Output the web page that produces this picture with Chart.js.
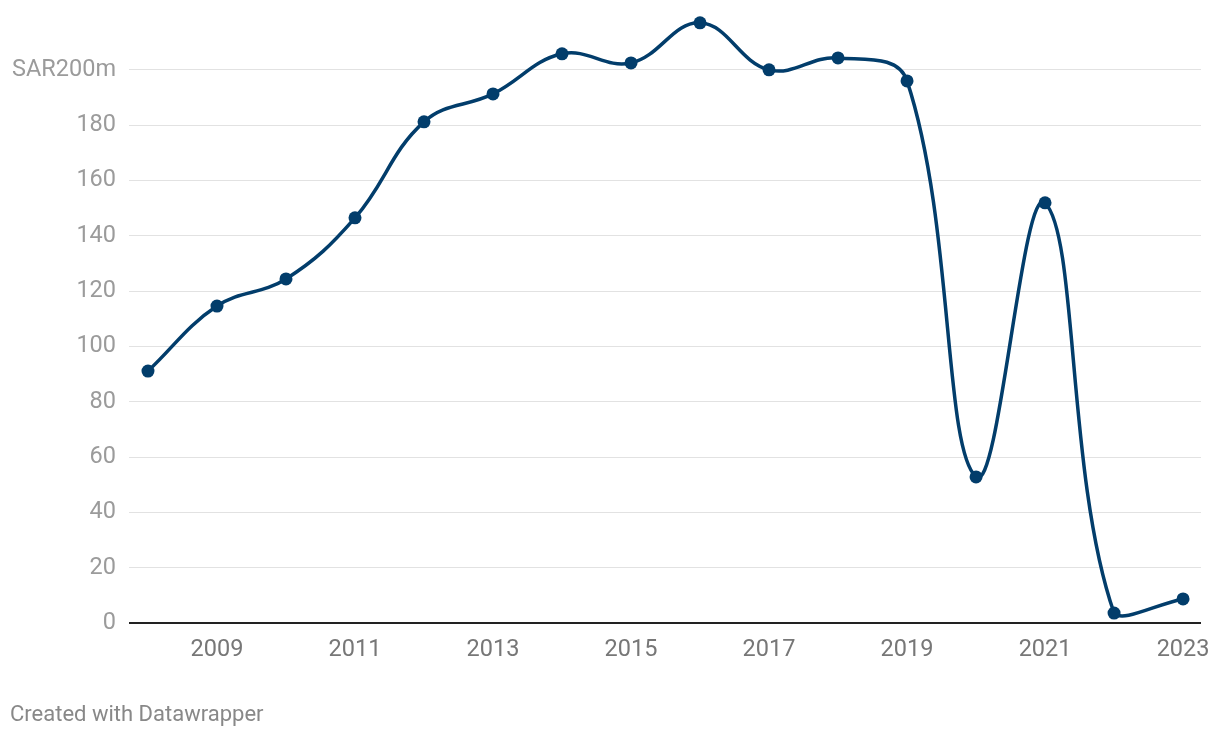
<!DOCTYPE html>
<html>
<head>
<meta charset="utf-8">
<script src="https://cdn.jsdelivr.net/npm/chart.js@4"></script>
<style>
  html, body { margin: 0; padding: 0; background: #fff; }
  #wrap { position: relative; width: 1220px; height: 738px; }
  #footer { position: absolute; left: 10px; top: 701px; font: 22px Roboto, sans-serif; color: #888; }
</style>
</head>
<body>
<div id="wrap">
  <canvas id="chart" width="1220" height="738"></canvas>
  <div id="footer">Created with Datawrapper</div>
</div>
<script>
const years = [2008, 2009, 2010, 2011, 2012, 2013, 2014, 2015, 2016, 2017, 2018, 2019, 2020, 2021, 2022, 2023];
const values = [91.1, 114.6, 124.4, 146.5, 181.2, 191.3, 205.8, 202.5, 217, 200, 204.3, 196, 52.8, 151.9, 3.6, 8.7];
const yTicks = [0, 20, 40, 60, 80, 100, 120, 140, 160, 180, 200];
const xTicks = [2009, 2011, 2013, 2015, 2017, 2019, 2021, 2023];

const navy = '#023d6b';

new Chart(document.getElementById('chart'), {
    type: 'line',
    data: {
        datasets: [{
            data: years.map((yr, i) => ({ x: yr, y: values[i] })),
            borderColor: navy,
            backgroundColor: navy,
            borderWidth: 3.5,
            pointRadius: 6.5,
            pointBorderWidth: 0,
            tension: 0.4,
            clip: false
        }]
    },
    options: {
        responsive: false,
        animation: false,
        layout: { padding: { top: 0, right: 19, left: 0, bottom: 0 } },
        plugins: { legend: { display: false }, tooltip: { enabled: false } },
        scales: {
            x: {
                type: 'linear',
                min: 2007.725,
                max: 2023.26,
                afterBuildTicks: s => { s.ticks = xTicks.map(v => ({ value: v })); },
                afterFit: s => { s.height = 115; s.paddingLeft = 0; s.paddingRight = 0; },
                grid: { display: false, drawTicks: false },
                border: { display: false },
                ticks: {
                    padding: 13,
                    maxRotation: 0,
                    color: '#777',
                    font: { family: 'Roboto', size: 23.5 },
                    callback: v => String(v)
                }
            },
            y: {
                min: 0,
                max: 222.9,
                afterBuildTicks: s => { s.ticks = yTicks.map(v => ({ value: v })); },
                afterFit: s => { s.width = 129; s.paddingTop = 0; s.paddingBottom = 0; },
                grid: {
                    drawTicks: false,
                    color: c => c.tick && c.tick.value === 0 ? '#222' : '#e2e2e2',
                    lineWidth: c => c.tick && c.tick.value === 0 ? 2 : 1
                },
                border: { display: false },
                ticks: {
                    padding: 13,
                    color: '#9b9b9b',
                    font: { family: 'Roboto', size: 23.5 },
                    callback: v => v === 200 ? 'SAR200m' : String(v)
                }
            }
        }
    }
});
</script>
</body>
</html>
